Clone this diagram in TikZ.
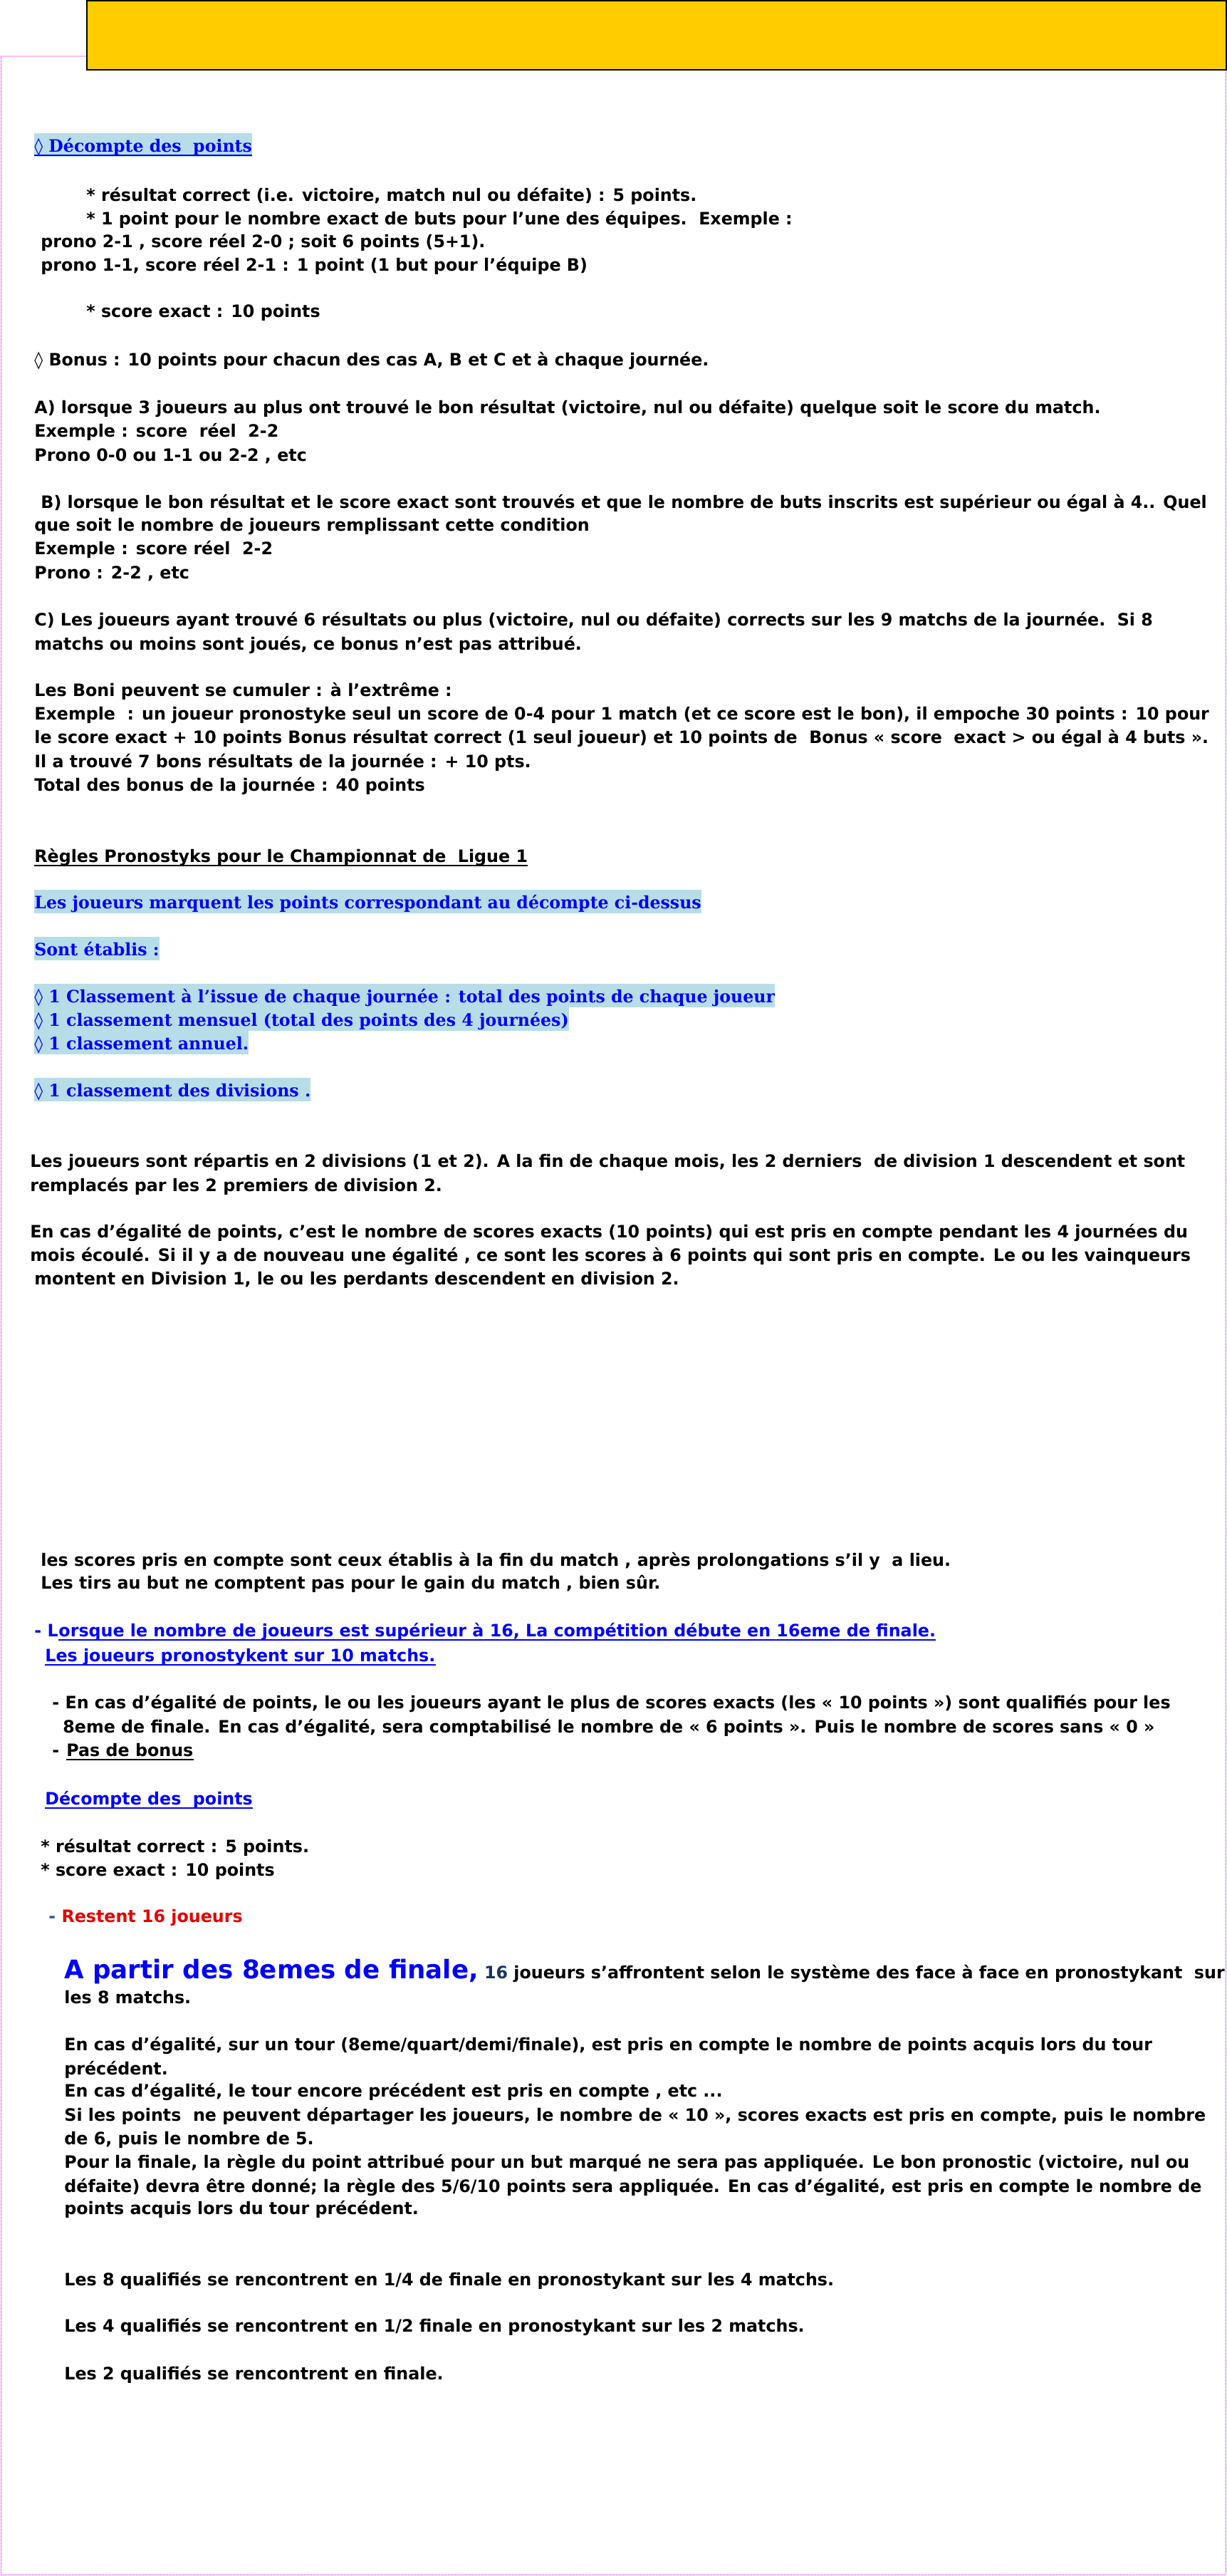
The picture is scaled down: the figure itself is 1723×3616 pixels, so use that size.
\documentclass[tikz,border=0pt]{standalone}
\usepackage{fontspec}
\setmainfont{DejaVu Sans}[FakeStretch=0.99]
\newfontfamily\slabfont{DejaVu Serif}[FakeStretch=0.985]
\newfontfamily\lozfont{DejaVu Sans}
\usepackage{tikz}
\usetikzlibrary{positioning}

\definecolor{hlblue}{RGB}{183,221,232}
\definecolor{txtblue}{RGB}{0,0,255}
\definecolor{dashblue}{RGB}{40,80,190}
\definecolor{navy}{RGB}{23,55,94}
\definecolor{alertred}{RGB}{230,0,0}
\definecolor{boxyellow}{RGB}{255,204,0}
\definecolor{framepink}{RGB}{255,190,245}
\definecolor{framemagenta}{RGB}{204,0,204}

\newcommand{\loz}{{\lozfont\mdseries ◊}}

\begin{document}
\begin{tikzpicture}[x=0.5pt, y=-0.5pt,
    txt/.style={anchor=base west, inner sep=0pt, font=\bfseries\fontsize{12}{14}\selectfont},
    slab/.style={txt, font=\slabfont\bfseries\fontsize{12}{14}\selectfont, text=txtblue},
    hlbox/.style={fill=hlblue, text height=13pt, text depth=3.5pt},
    link/.style={txt, text=txtblue},
    uline/.style={line width=1.4pt},
]
    \useasboundingbox (0,0) rectangle (1723,3616);
    % frame
    \draw[black, line width=1pt, fill=boxyellow] (122,1) rectangle (1722,98);
    \draw[framepink, line width=1pt] (0,79) -- (121,79);
    \draw[framemagenta, line width=0.5pt, dash pattern=on 0.5pt off 0.5pt]
        (1,80) -- (1,3614) -- (1721,3614) -- (1721,99);

    % decompte
    \node[slab, hlbox] (dec) at (48,213) {\loz{} Décompte des\ \ points};
    \draw[uline, txtblue] ([yshift=-2.5pt]dec.base west) -- ([yshift=-2.5pt]dec.base east);
    \node[txt] (dec1) at (121,282) {* résultat correct (i.e. victoire, match nul ou défaite) : 5 points.};
    \node[txt] (dec2) at (121,315) {* 1 point pour le nombre exact de buts pour l’une des équipes.\ \ Exemple :};
    \node[txt] (dec3) at (57,347) {prono 2-1 , score réel 2-0 ; soit 6 points (5+1).};
    \node[txt] (dec4) at (57,380) {prono 1-1, score réel 2-1 : 1 point (1 but pour l’équipe B)};
    \node[txt] (dec5) at (121,445) {* score exact : 10 points};

    % bonus
    \node[txt] (bon) at (48,513) {\loz{} Bonus : 10 points pour chacun des cas A, B et C et à chaque journée.};
    \node[txt] (bonA1) at (48,580) {A) lorsque 3 joueurs au plus ont trouvé le bon résultat (victoire, nul ou défaite) quelque soit le score du match.};
    \node[txt] (bonA2) at (48,613) {Exemple : score\ \ réel\ \ 2-2};
    \node[txt] (bonA3) at (48,647) {Prono 0-0 ou 1-1 ou 2-2 , etc};
    \node[txt] (bonB1) at (57,713) {B) lorsque le bon résultat et le score exact sont trouvés et que le nombre de buts inscrits est supérieur ou égal à 4.. Quel};
    \node[txt] (bonB2) at (48,745) {que soit le nombre de joueurs remplissant cette condition};
    \node[txt] (bonB3) at (48,778) {Exemple : score réel\ \ 2-2};
    \node[txt] (bonB4) at (48,812) {Prono : 2-2 , etc};
    \node[txt] (bonC1) at (48,878) {C) Les joueurs ayant trouvé 6 résultats ou plus (victoire, nul ou défaite) corrects sur les 9 matchs de la journée.\ \ Si 8};
    \node[txt] (bonC2) at (48,912) {matchs ou moins sont joués, ce bonus n'est pas attribué.};
    \node[txt] (boni1) at (48,977) {Les Boni peuvent se cumuler : à l’extrême :};
    \node[txt] (boni2) at (48,1010) {Exemple\ \ : un joueur pronostyke seul un score de 0-4 pour 1 match (et ce score est le bon), il empoche 30 points : 10 pour};
    \node[txt] (boni3) at (48,1043) {le score exact + 10 points Bonus résultat correct (1 seul joueur) et 10 points de\ \ Bonus « score\ \ exact > ou égal à 4 buts ».};
    \node[txt] (boni4) at (48,1077) {Il a trouvé 7 bons résultats de la journée : + 10 pts.};
    \node[txt] (boni5) at (48,1110) {Total des bonus de la journée : 40 points};

    % ligue 1
    \node[txt] (lig) at (48,1210) {Règles Pronostyks pour le Championnat de\ \ Ligue 1};
    \draw[uline] ([yshift=-2.5pt]lig.base west) -- ([yshift=-2.5pt]lig.base east);
    \node[slab, hlbox] (lig1) at (48,1275) {Les joueurs marquent les points correspondant au décompte ci-dessus};
    \node[slab, hlbox] (lig2) at (48,1341) {Sont établis :};
    \node[slab, hlbox] (cla1) at (48,1407) {\loz{} 1 Classement à l’issue de chaque journée : total des points de chaque joueur};
    \node[slab, hlbox] (cla2) at (48,1440) {\loz{} 1 classement mensuel (total des points des 4 journées)};
    \node[slab, hlbox] (cla3) at (48,1473) {\loz{} 1 classement annuel.};
    \node[slab, hlbox] (cla4) at (48,1539) {\loz{} 1 classement des divisions .};

    % divisions
    \node[txt] (div1) at (42,1638) {Les joueurs sont répartis en 2 divisions (1 et 2). A la fin de chaque mois, les 2 derniers\ \ de division 1 descendent et sont};
    \node[txt] (div2) at (42,1672) {remplacés par les 2 premiers de division 2.};
    \node[txt] (div3) at (42,1737) {En cas d’égalité de points, c’est le nombre de scores exacts (10 points) qui est pris en compte pendant les 4 journées du};
    \node[txt] (div4) at (42,1770) {mois écoulé. Si il y a de nouveau une égalité , ce sont les scores à 6 points qui sont pris en compte. Le ou les vainqueurs};
    \node[txt] (div5) at (48,1803) {montent en Division 1, le ou les perdants descendent en division 2.};

    % coupe
    \node[txt] (cup1) at (57,2198) {les scores pris en compte sont ceux établis à la fin du match , après prolongations s’il y\ \ a lieu.};
    \node[txt] (cup2) at (57,2230) {Les tirs au but ne comptent pas pour le gain du match , bien sûr.};
    \node[link] (cup3a) at (48,2297) {- L};
    \node[link] (cup3) at (cup3a.base east) {orsque le nombre de joueurs est supérieur à 16, La compétition débute en 16eme de finale.};
    \draw[uline, txtblue] ([yshift=-2.5pt]cup3.base west) -- ([yshift=-2.5pt]cup3.base east);
    \node[link] (cup4) at (63,2332) {Les joueurs pronostykent sur 10 matchs.};
    \draw[uline, txtblue] ([yshift=-2.5pt]cup4.base west) -- ([yshift=-2.5pt]cup4.base east);
    \node[txt] (cup5) at (73,2398) {- En cas d’égalité de points, le ou les joueurs ayant le plus de scores exacts (les « 10 points ») sont qualifiés pour les};
    \node[txt] (cup6) at (88,2432) {8eme de finale. En cas d’égalité, sera comptabilisé le nombre de « 6 points ». Puis le nombre de scores sans « 0 »};
    \node[txt] (cup7a) at (73,2465) {- };
    \node[txt] (cup7) at (93,2465) {Pas de bonus};
    \draw[uline] ([yshift=-2.5pt]cup7.base west) -- ([yshift=-2.5pt]cup7.base east);
    \node[link] (cup8) at (63,2533) {Décompte des\ \ points};
    \draw[uline, txtblue] ([yshift=-2.5pt]cup8.base west) -- ([yshift=-2.5pt]cup8.base east);
    \node[txt] (cup9) at (57,2600) {* résultat correct : 5 points.};
    \node[txt] (cup10) at (57,2633) {* score exact : 10 points};

    % huitiemes
    \node[txt] (rest) at (68,2698) {\textcolor{dashblue}{-} \textcolor{alertred}{Restent 16 joueurs}};
    \node[txt] (fin1) at (90,2777) {\textcolor{txtblue}{\fontsize{18}{21}\selectfont A partir des 8emes de finale,} \textcolor{navy}{16} joueurs s’affrontent selon le système des face à face en pronostykant\ \ sur};
    \node[txt] (fin2) at (90,2812) {les 8 matchs.};
    \node[txt] (ega1) at (90,2878) {En cas d’égalité, sur un tour (8eme/quart/demi/finale), est pris en compte le nombre de points acquis lors du tour};
    \node[txt] (ega2) at (90,2912) {précédent.};
    \node[txt] (ega3) at (90,2943) {En cas d’égalité, le tour encore précédent est pris en compte , etc ...};
    \node[txt] (ega4) at (90,2977) {Si les points\ \ ne peuvent départager les joueurs, le nombre de « 10 », scores exacts est pris en compte, puis le nombre};
    \node[txt] (ega5) at (90,3010) {de 6, puis le nombre de 5.};
    \node[txt] (ega6) at (90,3043) {Pour la finale, la règle du point attribué pour un but marqué ne sera pas appliquée. Le bon pronostic (victoire, nul ou};
    \node[txt] (ega7) at (90,3077) {défaite) devra être donné; la règle des 5/6/10 points sera appliquée. En cas d’égalité, est pris en compte le nombre de};
    \node[txt] (ega8) at (90,3108) {points acquis lors du tour précédent.};
    \node[txt] (qua) at (90,3208) {Les 8 qualifiés se rencontrent en 1/4 de finale en pronostykant sur les 4 matchs.};
    \node[txt] (demi) at (90,3273) {Les 4 qualifiés se rencontrent en 1/2 finale en pronostykant sur les 2 matchs.};
    \node[txt] (fin) at (90,3340) {Les 2 qualifiés se rencontrent en finale.};
\end{tikzpicture}
\end{document}
